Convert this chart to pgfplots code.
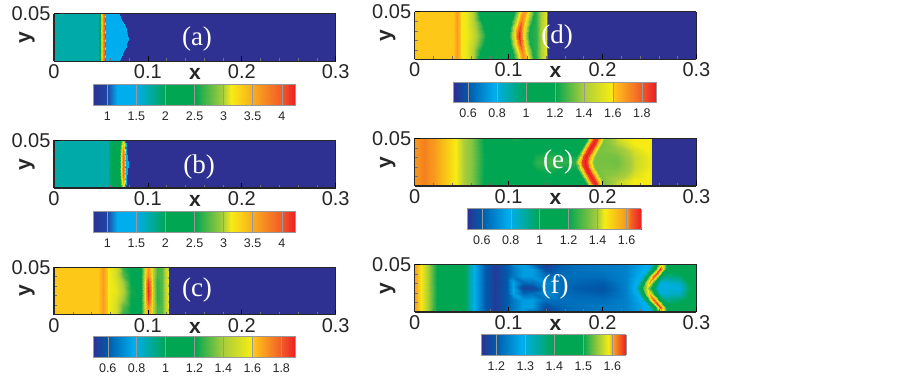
\documentclass[border=0pt]{standalone}
\usepackage{fontspec}
\setmainfont{Liberation Sans}
\newfontfamily\ser{Liberation Serif}
\usepackage{pgfplots}
\usepackage{pgfplotstable}
\pgfplotsset{compat=1.18}
\pgfplotsset{
 colormap={mapA}{rgb255(0cm)=(46,49,146) rgb255(7cm)=(30,70,165) rgb255(12cm)=(0,174,239) rgb255(21cm)=(0,174,239) rgb255(36cm)=(0,166,81) rgb255(50cm)=(0,166,81) rgb255(64cm)=(170,205,60) rgb255(68cm)=(247,236,19) rgb255(78cm)=(250,175,30) rgb255(93cm)=(241,90,41) rgb255(100cm)=(237,28,36)},
 colormap={mapC}{rgb255(0cm)=(46,49,146) rgb255(7cm)=(0,90,170) rgb255(20cm)=(0,174,239) rgb255(36cm)=(0,166,81) rgb255(50cm)=(0,166,81) rgb255(64cm)=(170,205,60) rgb255(78cm)=(247,236,19) rgb255(79cm)=(255,197,25) rgb255(93cm)=(241,90,41) rgb255(100cm)=(237,28,36)},
 colormap={mapE}{rgb255(0cm)=(46,49,146) rgb255(8cm)=(0,90,170) rgb255(24cm)=(0,174,239) rgb255(42cm)=(0,166,81) rgb255(58cm)=(0,166,81) rgb255(75cm)=(170,205,60) rgb255(79cm)=(247,236,19) rgb255(92cm)=(247,148,29) rgb255(94cm)=(241,100,35) rgb255(100cm)=(237,28,36)},
 colormap={mapF}{rgb255(0cm)=(46,49,146) rgb255(10cm)=(0,90,170) rgb255(28cm)=(0,174,239) rgb255(50cm)=(0,166,81) rgb255(70cm)=(0,166,81) rgb255(80cm)=(150,200,60) rgb255(88cm)=(247,236,19) rgb255(90cm)=(250,175,30) rgb255(100cm)=(237,28,36)},
 panel/.style={
  scale only axis, width=281.7pt, height=47.5pt, view={0}{90},
  xmin=0,xmax=0.3,ymin=0,ymax=0.05,
  scaled ticks=false,
  xtick={0,0.1,0.2,0.3}, xticklabels={0,0.1,0.2,0.3},
  ytick={0.05}, yticklabels={0.05},
  minor x tick num=4, minor ytick={0.01,0.02,0.03,0.04},
  xtick pos=bottom, ytick pos=left,
  tick align=inside, major tick length=5pt, minor tick length=3pt,
  minor tick style={black!55,line width=0.5pt}, major tick style={black,line width=0.8pt},
  tick label style={font=\fontsize{20}{20}\selectfont,text=black!85},
  axis line style={line width=1.2pt,black!85},
  axis on top,
  xlabel={\textbf{x}}, ylabel={\textbf{y}},
  label style={font=\fontsize{21}{21}\selectfont\bfseries,text=black!85},
  xlabel style={at={(rel axis cs:0.5,0,0)},anchor=center,yshift=-13pt},
  ylabel style={at={(rel axis cs:0,0.5,0)},anchor=center,yshift=27pt},
 },
 bar/.style={
  scale only axis, height=20.6pt, view={0}{90}, ymin=0, ymax=1,
  ytick=\empty, xtick pos=bottom, major tick length=0pt, scaled ticks=false,
  xmajorgrids, grid style={black!40,line width=0.4pt},
  axis line style={black!40,line width=0.6pt}, axis on top,
  tick label style={font=\fontsize{12.5}{13}\selectfont,text=black!85},
  xticklabel style={yshift=-3pt},
 },
}
\newcommand{\field}[2]{%
 \addplot3[surf,shader=interp,mesh/cols=#2] table[x=x,y=y,z=v] {#1};
 \addplot3[surf,shader=interp,mesh/cols=#2] table[x=x,y expr={0.05-\thisrow{y}},z=v] {#1};
}
\pgfplotstableread[row sep=\\]{x y v\\
0 0 1.72\\ 0.047 0 1.72\\ 0.0495 0 2.2\\ 0.0505 0 3.0\\ 0.0525 0 3.7\\ 0.0545 0 4.1\\ 0.0549 0 1.3\\ 0.0696 0 1.3\\ 0.07 0 0.76\\ 0.3 0 0.76\\
0 0.008 1.72\\ 0.047 0.008 1.72\\ 0.0495 0.008 2.2\\ 0.0505 0.008 3.0\\ 0.0525 0.008 3.7\\ 0.0545 0.008 4.1\\ 0.0549 0.008 1.3\\ 0.0732 0.008 1.3\\ 0.0736 0.008 0.76\\ 0.3 0.008 0.76\\
0 0.016 1.72\\ 0.047 0.016 1.72\\ 0.0495 0.016 2.2\\ 0.0505 0.016 3.0\\ 0.0525 0.016 3.7\\ 0.0545 0.016 4.1\\ 0.0549 0.016 1.3\\ 0.0771 0.016 1.3\\ 0.0775 0.016 0.76\\ 0.3 0.016 0.76\\
0 0.025 1.72\\ 0.047 0.025 1.72\\ 0.0495 0.025 2.2\\ 0.0505 0.025 3.0\\ 0.0525 0.025 3.7\\ 0.0545 0.025 4.1\\ 0.0549 0.025 1.3\\ 0.0791 0.025 1.3\\ 0.0795 0.025 0.76\\ 0.3 0.025 0.76\\
}\tabA
\pgfplotstableread[row sep=\\]{x y v\\
0 0 1.72\\ 0.058 0 1.72\\ 0.06 0 1.95\\ 0.069 0 2.1\\ 0.0718 0 2.5\\ 0.074 0 3.0\\ 0.0757 0 2.6\\ 0.0764 0 1.3\\ 0.0768 0 1.3\\ 0.0772 0 0.76\\ 0.3 0 0.76\\
0 0.005 1.72\\ 0.058 0.005 1.72\\ 0.06 0.005 1.95\\ 0.069 0.005 2.1\\ 0.0716 0.005 2.8\\ 0.0737 0.005 3.4\\ 0.0755 0.005 3.0\\ 0.0762 0.005 1.3\\ 0.077 0.005 1.3\\ 0.0774 0.005 0.76\\ 0.3 0.005 0.76\\
0 0.012 1.72\\ 0.058 0.012 1.72\\ 0.06 0.012 1.95\\ 0.069 0.012 2.15\\ 0.0715 0.012 3.0\\ 0.0735 0.012 3.8\\ 0.0755 0.012 3.3\\ 0.0762 0.012 1.3\\ 0.0775 0.012 1.3\\ 0.0779 0.012 0.76\\ 0.3 0.012 0.76\\
0 0.018 1.72\\ 0.058 0.018 1.72\\ 0.06 0.018 1.95\\ 0.069 0.018 2.2\\ 0.0715 0.018 3.1\\ 0.0735 0.018 3.9\\ 0.0755 0.018 3.4\\ 0.0762 0.018 1.3\\ 0.0787 0.018 1.3\\ 0.0791 0.018 0.76\\ 0.3 0.018 0.76\\
0 0.025 1.72\\ 0.058 0.025 1.72\\ 0.06 0.025 1.95\\ 0.069 0.025 2.2\\ 0.0715 0.025 3.1\\ 0.0735 0.025 3.9\\ 0.0755 0.025 3.4\\ 0.0762 0.025 1.3\\ 0.0794 0.025 1.3\\ 0.0798 0.025 0.76\\ 0.3 0.025 0.76\\
}\tabB
\pgfplotstableread[row sep=\\]{x y v\\
0 0 1.605\\ 0.047 0 1.605\\ 0.052 0 1.68\\ 0.058 0 1.59\\ 0.066 0 1.5\\ 0.074 0 1.25\\ 0.082 0 1.2\\ 0.0925 0 1.2\\ 0.0955 0 1.42\\ 0.0975 0 1.6\\ 0.1005 0 1.68\\ 0.1035 0 1.6\\ 0.1055 0 1.42\\ 0.1095 0 1.28\\ 0.115 0 1.3\\ 0.121 0 1.55\\ 0.1222 0 1.0\\ 0.1226 0 0.5\\ 0.3 0 0.5\\
0 0.008 1.605\\ 0.047 0.008 1.605\\ 0.052 0.008 1.68\\ 0.058 0.008 1.59\\ 0.066 0.008 1.5\\ 0.074 0.008 1.3\\ 0.082 0.008 1.2\\ 0.0925 0.008 1.2\\ 0.0955 0.008 1.42\\ 0.0975 0.008 1.62\\ 0.1005 0.008 1.72\\ 0.1035 0.008 1.62\\ 0.1055 0.008 1.42\\ 0.1095 0.008 1.28\\ 0.115 0.008 1.3\\ 0.121 0.008 1.55\\ 0.1222 0.008 1.0\\ 0.1226 0.008 0.5\\ 0.3 0.008 0.5\\
0 0.016 1.605\\ 0.047 0.016 1.605\\ 0.052 0.016 1.68\\ 0.058 0.016 1.59\\ 0.066 0.016 1.52\\ 0.074 0.016 1.38\\ 0.082 0.016 1.2\\ 0.0925 0.016 1.2\\ 0.0955 0.016 1.45\\ 0.0975 0.016 1.68\\ 0.1005 0.016 1.85\\ 0.1035 0.016 1.68\\ 0.1055 0.016 1.42\\ 0.1095 0.016 1.25\\ 0.115 0.016 1.3\\ 0.121 0.016 1.55\\ 0.1222 0.016 1.0\\ 0.1226 0.016 0.5\\ 0.3 0.016 0.5\\
0 0.025 1.605\\ 0.047 0.025 1.605\\ 0.052 0.025 1.68\\ 0.058 0.025 1.59\\ 0.066 0.025 1.55\\ 0.074 0.025 1.42\\ 0.082 0.025 1.22\\ 0.0925 0.025 1.18\\ 0.0955 0.025 1.45\\ 0.0975 0.025 1.7\\ 0.1005 0.025 1.89\\ 0.1035 0.025 1.7\\ 0.1055 0.025 1.42\\ 0.1095 0.025 1.25\\ 0.115 0.025 1.3\\ 0.121 0.025 1.55\\ 0.1222 0.025 1.0\\ 0.1226 0.025 0.5\\ 0.3 0.025 0.5\\
}\tabC
\pgfplotstableread[row sep=\\]{x y v\\
0 0 1.605\\ 0.041 0 1.605\\ 0.0447 0 1.68\\ 0.049 0 1.59\\ 0.055 0 1.57\\ 0.062 0 1.42\\ 0.068 0 1.2\\ 0.1055 0 1.2\\ 0.1095 0 1.4\\ 0.1125 0 1.58\\ 0.1145 0 1.65\\ 0.1165 0 1.7\\ 0.1185 0 1.65\\ 0.1205 0 1.58\\ 0.1235 0 1.4\\ 0.1275 0 1.22\\ 0.129 0 1.25\\ 0.135 0 1.4\\ 0.141 0 1.57\\ 0.1414 0 1.0\\ 0.1418 0 0.5\\ 0.3 0 0.5\\
0 0.008 1.605\\ 0.041 0.008 1.605\\ 0.0447 0.008 1.68\\ 0.049 0.008 1.59\\ 0.055 0.008 1.57\\ 0.062 0.008 1.42\\ 0.07 0.008 1.2\\ 0.1035 0.008 1.2\\ 0.1075 0.008 1.4\\ 0.1105 0.008 1.58\\ 0.1125 0.008 1.66\\ 0.1145 0.008 1.72\\ 0.1165 0.008 1.66\\ 0.1185 0.008 1.58\\ 0.1215 0.008 1.4\\ 0.1255 0.008 1.22\\ 0.129 0.008 1.25\\ 0.135 0.008 1.4\\ 0.141 0.008 1.57\\ 0.1414 0.008 1.0\\ 0.1418 0.008 0.5\\ 0.3 0.008 0.5\\
0 0.016 1.605\\ 0.041 0.016 1.605\\ 0.0447 0.016 1.68\\ 0.049 0.016 1.59\\ 0.055 0.016 1.57\\ 0.062 0.016 1.45\\ 0.074 0.016 1.2\\ 0.1012 0.016 1.2\\ 0.1052 0.016 1.4\\ 0.1082 0.016 1.6\\ 0.1102 0.016 1.72\\ 0.1122 0.016 1.83\\ 0.1142 0.016 1.72\\ 0.1162 0.016 1.6\\ 0.1192 0.016 1.4\\ 0.1232 0.016 1.22\\ 0.129 0.016 1.25\\ 0.135 0.016 1.4\\ 0.141 0.016 1.57\\ 0.1414 0.016 1.0\\ 0.1418 0.016 0.5\\ 0.3 0.016 0.5\\
0 0.025 1.605\\ 0.041 0.025 1.605\\ 0.0447 0.025 1.68\\ 0.049 0.025 1.59\\ 0.055 0.025 1.58\\ 0.062 0.025 1.48\\ 0.076 0.025 1.2\\ 0.1 0.025 1.2\\ 0.104 0.025 1.4\\ 0.107 0.025 1.6\\ 0.109 0.025 1.78\\ 0.111 0.025 1.89\\ 0.113 0.025 1.78\\ 0.115 0.025 1.6\\ 0.118 0.025 1.4\\ 0.122 0.025 1.22\\ 0.129 0.025 1.25\\ 0.135 0.025 1.4\\ 0.141 0.025 1.57\\ 0.1414 0.025 1.0\\ 0.1418 0.025 0.5\\ 0.3 0.025 0.5\\
}\tabD
\pgfplotstableread[row sep=\\]{x y v\\
0 0 1.6\\ 0.01 0 1.615\\ 0.02 0 1.6\\ 0.03 0 1.53\\ 0.045 0 1.44\\ 0.06 0 1.36\\ 0.08 0 1.12\\ 0.095 0 1.1\\ 0.105 0 1.24\\ 0.115 0 1.22\\ 0.13 0 1.08\\ 0.145 0 1.08\\ 0.16 0 1.1\\ 0.183 0 1.15\\ 0.1875 0 1.5\\ 0.1905 0 1.66\\ 0.193 0 1.69\\ 0.1955 0 1.66\\ 0.1985 0 1.5\\ 0.203 0 1.34\\ 0.215 0 1.42\\ 0.235 0 1.45\\ 0.25 0 1.45\\ 0.2525 0 1.44\\ 0.2529 0 0.5\\ 0.3 0 0.5\\
0 0.005 1.6\\ 0.01 0.005 1.615\\ 0.02 0.005 1.6\\ 0.03 0.005 1.53\\ 0.045 0.005 1.44\\ 0.06 0.005 1.36\\ 0.08 0.005 1.12\\ 0.095 0.005 1.1\\ 0.105 0.005 1.18\\ 0.115 0.005 1.16\\ 0.13 0.005 1.08\\ 0.145 0.005 1.08\\ 0.16 0.005 1.1\\ 0.1805 0.005 1.15\\ 0.185 0.005 1.5\\ 0.188 0.005 1.66\\ 0.1905 0.005 1.7\\ 0.193 0.005 1.66\\ 0.196 0.005 1.5\\ 0.2005 0.005 1.34\\ 0.215 0.005 1.41\\ 0.235 0.005 1.45\\ 0.25 0.005 1.45\\ 0.2525 0.005 1.44\\ 0.2529 0.005 0.5\\ 0.3 0.005 0.5\\
0 0.0125 1.6\\ 0.01 0.0125 1.615\\ 0.02 0.0125 1.6\\ 0.03 0.0125 1.53\\ 0.045 0.0125 1.44\\ 0.06 0.0125 1.36\\ 0.08 0.0125 1.12\\ 0.095 0.0125 1.05\\ 0.105 0.0125 1.05\\ 0.115 0.0125 1.12\\ 0.13 0.0125 1.18\\ 0.145 0.0125 1.2\\ 0.16 0.0125 1.15\\ 0.176 0.0125 1.18\\ 0.1805 0.0125 1.5\\ 0.1835 0.0125 1.66\\ 0.186 0.0125 1.7\\ 0.1885 0.0125 1.66\\ 0.1915 0.0125 1.5\\ 0.196 0.0125 1.34\\ 0.215 0.0125 1.37\\ 0.235 0.0125 1.43\\ 0.25 0.0125 1.45\\ 0.2525 0.0125 1.44\\ 0.2529 0.0125 0.5\\ 0.3 0.0125 0.5\\
0 0.02 1.6\\ 0.01 0.02 1.615\\ 0.02 0.02 1.6\\ 0.03 0.02 1.53\\ 0.045 0.02 1.44\\ 0.06 0.02 1.36\\ 0.08 0.02 1.13\\ 0.095 0.02 1.05\\ 0.105 0.02 1.03\\ 0.115 0.02 1.12\\ 0.13 0.02 1.23\\ 0.145 0.02 1.25\\ 0.16 0.02 1.22\\ 0.1722 0.02 1.22\\ 0.1767 0.02 1.5\\ 0.1797 0.02 1.66\\ 0.1822 0.02 1.7\\ 0.1847 0.02 1.66\\ 0.1877 0.02 1.5\\ 0.1922 0.02 1.34\\ 0.215 0.02 1.34\\ 0.235 0.02 1.42\\ 0.25 0.02 1.44\\ 0.2525 0.02 1.44\\ 0.2529 0.02 0.5\\ 0.3 0.02 0.5\\
0 0.025 1.6\\ 0.01 0.025 1.615\\ 0.02 0.025 1.6\\ 0.03 0.025 1.53\\ 0.045 0.025 1.44\\ 0.06 0.025 1.36\\ 0.08 0.025 1.13\\ 0.095 0.025 1.05\\ 0.105 0.025 1.05\\ 0.115 0.025 1.14\\ 0.13 0.025 1.25\\ 0.145 0.025 1.27\\ 0.16 0.025 1.25\\ 0.171 0.025 1.25\\ 0.1755 0.025 1.5\\ 0.1785 0.025 1.66\\ 0.181 0.025 1.7\\ 0.1835 0.025 1.66\\ 0.1865 0.025 1.5\\ 0.191 0.025 1.34\\ 0.215 0.025 1.33\\ 0.235 0.025 1.42\\ 0.25 0.025 1.44\\ 0.2525 0.025 1.44\\ 0.2529 0.025 0.5\\ 0.3 0.025 0.5\\
}\tabE
\pgfplotstableread[row sep=\\]{x y v\\
0 0 1.6\\ 0.006 0 1.59\\ 0.013 0 1.56\\ 0.025 0 1.49\\ 0.05 0 1.42\\ 0.056 0 1.37\\ 0.062 0 1.3\\ 0.075 0 1.2\\ 0.085 0 1.16\\ 0.098 0 1.2\\ 0.105 0 1.25\\ 0.115 0 1.27\\ 0.125 0 1.22\\ 0.14 0 1.16\\ 0.155 0 1.2\\ 0.17 0 1.22\\ 0.2 0 1.23\\ 0.225 0 1.24\\ 0.2515 0 1.3\\ 0.2565 0 1.42\\ 0.2595 0 1.52\\ 0.2635 0 1.58\\ 0.2675 0 1.52\\ 0.2705 0 1.44\\ 0.2755 0 1.42\\ 0.282 0 1.42\\ 0.292 0 1.43\\ 0.3 0 1.43\\
0 0.005 1.6\\ 0.006 0.005 1.59\\ 0.013 0.005 1.56\\ 0.025 0.005 1.49\\ 0.05 0.005 1.42\\ 0.056 0.005 1.37\\ 0.062 0.005 1.3\\ 0.075 0.005 1.2\\ 0.085 0.005 1.16\\ 0.098 0.005 1.2\\ 0.105 0.005 1.23\\ 0.115 0.005 1.27\\ 0.125 0.005 1.27\\ 0.14 0.005 1.18\\ 0.155 0.005 1.21\\ 0.17 0.005 1.22\\ 0.2 0.005 1.23\\ 0.225 0.005 1.24\\ 0.2497 0.005 1.3\\ 0.2547 0.005 1.44\\ 0.2577 0.005 1.56\\ 0.2617 0.005 1.64\\ 0.2657 0.005 1.56\\ 0.2687 0.005 1.45\\ 0.2737 0.005 1.42\\ 0.282 0.005 1.42\\ 0.292 0.005 1.43\\ 0.3 0.005 1.43\\
0 0.0125 1.6\\ 0.006 0.0125 1.59\\ 0.013 0.0125 1.56\\ 0.025 0.0125 1.49\\ 0.05 0.0125 1.42\\ 0.056 0.0125 1.37\\ 0.062 0.0125 1.3\\ 0.075 0.0125 1.2\\ 0.085 0.0125 1.16\\ 0.098 0.0125 1.2\\ 0.105 0.0125 1.23\\ 0.115 0.0125 1.27\\ 0.125 0.0125 1.27\\ 0.14 0.0125 1.22\\ 0.155 0.0125 1.22\\ 0.17 0.0125 1.22\\ 0.2 0.0125 1.22\\ 0.225 0.0125 1.24\\ 0.2426 0.0125 1.3\\ 0.2476 0.0125 1.44\\ 0.2506 0.0125 1.56\\ 0.2546 0.0125 1.63\\ 0.2586 0.0125 1.56\\ 0.2616 0.0125 1.42\\ 0.2666 0.0125 1.36\\ 0.282 0.0125 1.38\\ 0.292 0.0125 1.42\\ 0.3 0.0125 1.43\\
0 0.02 1.6\\ 0.006 0.02 1.59\\ 0.013 0.02 1.56\\ 0.025 0.02 1.49\\ 0.05 0.02 1.42\\ 0.056 0.02 1.37\\ 0.062 0.02 1.3\\ 0.075 0.02 1.2\\ 0.085 0.02 1.16\\ 0.098 0.02 1.2\\ 0.105 0.02 1.28\\ 0.115 0.02 1.21\\ 0.125 0.02 1.22\\ 0.14 0.02 1.25\\ 0.155 0.02 1.22\\ 0.17 0.02 1.21\\ 0.2 0.02 1.2\\ 0.225 0.02 1.24\\ 0.2376 0.02 1.3\\ 0.2426 0.02 1.43\\ 0.2456 0.02 1.54\\ 0.2496 0.02 1.6\\ 0.2536 0.02 1.52\\ 0.2566 0.02 1.4\\ 0.2616 0.02 1.3\\ 0.282 0.02 1.32\\ 0.292 0.02 1.4\\ 0.3 0.02 1.43\\
0 0.025 1.6\\ 0.006 0.025 1.59\\ 0.013 0.025 1.56\\ 0.025 0.025 1.49\\ 0.05 0.025 1.42\\ 0.056 0.025 1.37\\ 0.062 0.025 1.3\\ 0.075 0.025 1.2\\ 0.085 0.025 1.16\\ 0.098 0.025 1.2\\ 0.105 0.025 1.28\\ 0.115 0.025 1.17\\ 0.125 0.025 1.17\\ 0.14 0.025 1.24\\ 0.155 0.025 1.22\\ 0.17 0.025 1.2\\ 0.2 0.025 1.19\\ 0.225 0.025 1.24\\ 0.2355 0.025 1.3\\ 0.2405 0.025 1.42\\ 0.2435 0.025 1.52\\ 0.2475 0.025 1.57\\ 0.2515 0.025 1.5\\ 0.2545 0.025 1.4\\ 0.2595 0.025 1.3\\ 0.282 0.025 1.3\\ 0.292 0.025 1.38\\ 0.3 0.025 1.42\\
}\tabF
\begin{document}
\begin{tikzpicture}
\useasboundingbox (0,0) rectangle (902pt,377pt);
% (a)
\begin{axis}[panel,at={(54pt,315.7pt)},anchor=south west,colormap name=mapA,point meta min=0.759,point meta max=4.24]
\field{\tabA}{10}
\end{axis}
\begin{axis}[bar,at={(93.3pt,271.7pt)},anchor=south west,width=202.4pt,colormap name=mapA,point meta min=0.759,point meta max=4.24,xmin=0.759,xmax=4.24,
 xtick={1,1.5,2,2.5,3,3.5,4},xticklabels={1,1.5,2,2.5,3,3.5,4}]
\addplot3[surf,shader=interp,mesh/cols=2] coordinates {(0.759,0,0.759) (4.24,0,4.24) (0.759,1,0.759) (4.24,1,4.24)};
\end{axis}
% (b)
\begin{axis}[panel,at={(54pt,189pt)},anchor=south west,colormap name=mapA,point meta min=0.759,point meta max=4.24]
\field{\tabB}{11}
\end{axis}
\begin{axis}[bar,at={(93.3pt,145pt)},anchor=south west,width=202.4pt,colormap name=mapA,point meta min=0.759,point meta max=4.24,xmin=0.759,xmax=4.24,
 xtick={1,1.5,2,2.5,3,3.5,4},xticklabels={1,1.5,2,2.5,3,3.5,4}]
\addplot3[surf,shader=interp,mesh/cols=2] coordinates {(0.759,0,0.759) (4.24,0,4.24) (0.759,1,0.759) (4.24,1,4.24)};
\end{axis}
% (c)
\begin{axis}[panel,at={(54pt,62.3pt)},anchor=south west,colormap name=mapC,point meta min=0.5,point meta max=1.9]
\field{\tabC}{19}
\end{axis}
\begin{axis}[bar,at={(93.3pt,19.7pt)},anchor=south west,width=202.4pt,colormap name=mapC,point meta min=0.5,point meta max=1.9,xmin=0.5,xmax=1.9,
 xtick={0.6,0.8,1,1.2,1.4,1.6,1.8},xticklabels={0.6,0.8,1,1.2,1.4,1.6,1.8}]
\addplot3[surf,shader=interp,mesh/cols=2] coordinates {(0.5,0,0.5) (1.9,0,1.9) (0.5,1,0.5) (1.9,1,1.9)};
\end{axis}
% (d)
\begin{axis}[panel,at={(414.7pt,317.7pt)},anchor=south west,colormap name=mapC,point meta min=0.5,point meta max=1.9]
\field{\tabD}{22}
\end{axis}
\begin{axis}[bar,at={(453.7pt,274.3pt)},anchor=south west,width=202.6pt,colormap name=mapC,point meta min=0.5,point meta max=1.9,xmin=0.5,xmax=1.9,
 xtick={0.6,0.8,1,1.2,1.4,1.6,1.8},xticklabels={0.6,0.8,1,1.2,1.4,1.6,1.8}]
\addplot3[surf,shader=interp,mesh/cols=2] coordinates {(0.5,0,0.5) (1.9,0,1.9) (0.5,1,0.5) (1.9,1,1.9)};
\end{axis}
% (e)
\begin{axis}[panel,at={(414.7pt,191pt)},anchor=south west,colormap name=mapE,point meta min=0.5,point meta max=1.7]
\field{\tabE}{26}
\end{axis}
\begin{axis}[bar,at={(467.3pt,147.7pt)},anchor=south west,width=173.7pt,colormap name=mapE,point meta min=0.5,point meta max=1.7,xmin=0.5,xmax=1.7,
 xtick={0.6,0.8,1,1.2,1.4,1.6},xticklabels={0.6,0.8,1,1.2,1.4,1.6}]
\addplot3[surf,shader=interp,mesh/cols=2] coordinates {(0.5,0,0.5) (1.7,0,1.7) (0.5,1,0.5) (1.7,1,1.7)};
\end{axis}
% (f)
\begin{axis}[panel,at={(414.7pt,65pt)},anchor=south west,colormap name=mapF,point meta min=1.148,point meta max=1.647]
\field{\tabF}{28}
\end{axis}
\begin{axis}[bar,at={(481.3pt,21.7pt)},anchor=south west,width=144.7pt,colormap name=mapF,point meta min=1.148,point meta max=1.647,xmin=1.148,xmax=1.647,
 xtick={1.2,1.3,1.4,1.5,1.6},xticklabels={1.2,1.3,1.4,1.5,1.6}]
\addplot3[surf,shader=interp,mesh/cols=2] coordinates {(1.148,0,1.148) (1.647,0,1.647) (1.148,1,1.148) (1.647,1,1.647)};
\end{axis}
\begin{scope}[every node/.style={text=white,font=\ser\fontsize{27}{27}\selectfont,anchor=center}]
\node at (197pt,338pt) {(a)};
\node at (199pt,210pt) {(b)};
\node at (197pt,87pt) {(c)};
\node at (557pt,340pt) {(d)};
\node at (558pt,215pt) {(e)};
\node at (555pt,90pt) {(f)};
\end{scope}
\end{tikzpicture}
\end{document}
